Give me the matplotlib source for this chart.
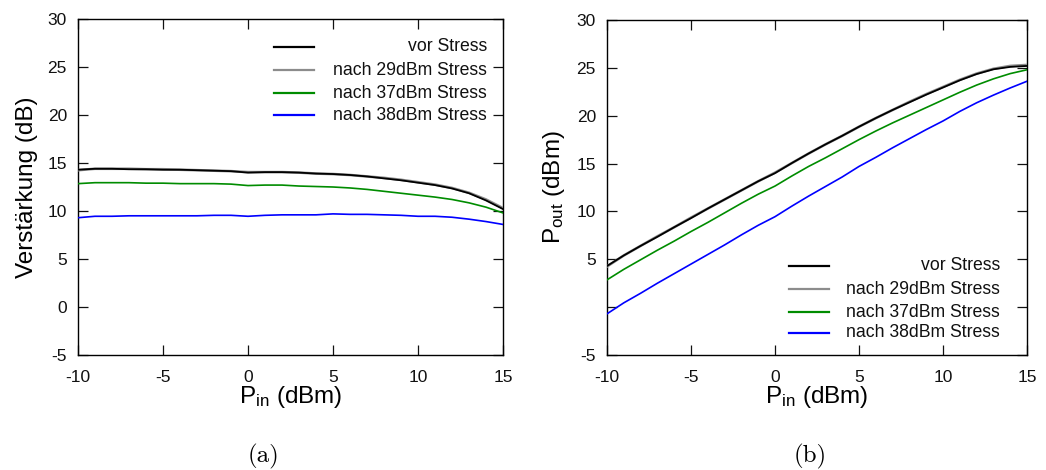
import matplotlib
matplotlib.use("Agg")
import matplotlib.pyplot as plt
from matplotlib.lines import Line2D

# ---------------------------------------------------------
# Data
# ---------------------------------------------------------
pin = [-10, -9, -8, -7, -6, -5, -4, -3, -2, -1, 0, 1, 2,
       3, 4, 5, 6, 7, 8, 9, 10, 11, 12, 13, 14, 15]

gain_vor = [14.3, 14.4, 14.4, 14.35, 14.35, 14.3, 14.3, 14.25, 14.2, 14.15, 14.0, 14.05, 14.05,
            14.0, 13.9, 13.85, 13.75, 13.6, 13.4, 13.2, 12.95, 12.7, 12.35, 11.85, 11.1, 10.2]
gain_29 = [14.25, 14.4, 14.4, 14.4, 14.35, 14.35, 14.3, 14.25, 14.2, 14.15, 14.05, 14.05, 14.05,
           14.0, 13.9, 13.85, 13.75, 13.6, 13.45, 13.25, 13.0, 12.75, 12.4, 11.9, 11.2, 10.3]
gain_37 = [12.85, 12.95, 12.95, 12.95, 12.9, 12.9, 12.85, 12.85, 12.85, 12.8, 12.65, 12.7, 12.7,
           12.6, 12.55, 12.5, 12.4, 12.25, 12.05, 11.85, 11.65, 11.45, 11.2, 10.85, 10.4, 9.8]
gain_38 = [9.3, 9.45, 9.45, 9.5, 9.5, 9.5, 9.5, 9.5, 9.55, 9.55, 9.45, 9.55, 9.6,
           9.6, 9.6, 9.7, 9.65, 9.65, 9.6, 9.55, 9.45, 9.45, 9.35, 9.15, 8.9, 8.6]

pout_vor = [4.3, 5.4, 6.4, 7.35, 8.35, 9.3, 10.3, 11.25, 12.2, 13.15, 14.0, 15.05, 16.05,
            17.0, 17.9, 18.85, 19.75, 20.6, 21.4, 22.2, 22.95, 23.7, 24.35, 24.85, 25.1, 25.2]
pout_29 = [4.25, 5.4, 6.4, 7.4, 8.35, 9.35, 10.3, 11.25, 12.2, 13.15, 14.05, 15.05, 16.05,
           17.0, 17.9, 18.85, 19.75, 20.6, 21.45, 22.25, 23.0, 23.75, 24.4, 24.9, 25.2, 25.3]
pout_37 = [2.85, 3.95, 4.95, 5.95, 6.9, 7.9, 8.85, 9.85, 10.85, 11.8, 12.65, 13.7, 14.7,
           15.6, 16.55, 17.5, 18.4, 19.25, 20.05, 20.85, 21.65, 22.45, 23.2, 23.85, 24.4, 24.8]
pout_38 = [-0.7, 0.45, 1.45, 2.5, 3.5, 4.5, 5.5, 6.5, 7.55, 8.55, 9.45, 10.55, 11.6,
           12.6, 13.6, 14.7, 15.65, 16.65, 17.6, 18.55, 19.45, 20.45, 21.35, 22.15, 22.9, 23.6]

labels = ["vor Stress", "nach 29dBm Stress", "nach 37dBm Stress", "nach 38dBm Stress"]
colors = ["#000000", "#8c8c8c", "#008c00", "#0000ff"]
widths = [1.3, 1.9, 1.2, 1.2]
zorders = [4, 3, 3, 3]

x_ticks = [-10, -5, 0, 5, 10, 15]
y_ticks = [-5, 0, 5, 10, 15, 20, 25, 30]
y_labels_b = ["-5", "", "5", "10", "15", "20", "25", "30"]

# ---------------------------------------------------------
# Style
# ---------------------------------------------------------
plt.rcParams["font.family"] = ["Liberation Sans", "DejaVu Sans"]
plt.rcParams["axes.unicode_minus"] = False
plt.rcParams["mathtext.fontset"] = "custom"
plt.rcParams["mathtext.rm"] = "Liberation Sans"
plt.rcParams["mathtext.default"] = "rm"

fig = plt.figure(figsize=(10.46, 4.70), dpi=100)
ax_a = fig.add_axes([78 / 1046, 115 / 470, 425 / 1046, 336 / 470])
ax_b = fig.add_axes([607 / 1046, 115 / 470, 420 / 1046, 335 / 470])


def style_axes(ax, ylabels):
    ax.set_xlim(-10, 15)
    ax.set_ylim(-5, 30)
    ax.set_xticks(x_ticks)
    ax.set_xticklabels([str(t) for t in x_ticks])
    ax.set_yticks(y_ticks)
    ax.set_yticklabels(ylabels)
    ax.tick_params(direction="in", length=7, width=0.9, top=True, right=True,
                   labelsize=12.5, colors="#111111")
    ax.tick_params(axis="x", pad=11)
    ax.tick_params(axis="y", pad=8)
    for s in ax.spines.values():
        s.set_linewidth(1.0)
    ax.set_xlabel(r"P$_{\mathrm{in}}$ (dBm)", fontsize=17.5, labelpad=-1)


def draw_legend(ax, x0, x1, xt, rows):
    for lab, col, yy in zip(labels, colors, rows):
        ax.add_line(Line2D([x0, x1], [yy, yy], transform=ax.transAxes,
                           color=col, lw=1.6))
        ax.text(xt, yy, lab, transform=ax.transAxes, ha="right", va="center",
                fontsize=12.7, color="#111111")


# (a) gain
for ys, col, lw, z in zip([gain_vor, gain_29, gain_37, gain_38], colors, widths, zorders):
    ax_a.plot(pin, ys, color=col, lw=lw, zorder=z)
style_axes(ax_a, [str(t) for t in y_ticks])
ax_a.set_ylabel("Verstärkung (dB)", fontsize=17.5, labelpad=7)
draw_legend(ax_a, 0.461, 0.555, 0.962, [0.917, 0.848, 0.779, 0.714])

# (b) output power
for ys, col, lw, z in zip([pout_vor, pout_29, pout_37, pout_38], colors, widths, zorders):
    ax_b.plot(pin, ys, color=col, lw=lw, zorder=z)
style_axes(ax_b, y_labels_b)
ax_b.set_ylabel(r"P$_{\mathrm{out}}$ (dBm)", fontsize=17.5, labelpad=7)
draw_legend(ax_b, 0.433, 0.529, 0.936, [0.266, 0.197, 0.127, 0.066])

# captions
fig.text(263 / 1046, 1 - 456 / 470, "(a)", family="cmr10", fontsize=18,
         ha="center", va="center")
fig.text(810 / 1046, 1 - 456 / 470, "(b)", family="cmr10", fontsize=18,
         ha="center", va="center")

fig.savefig("out.png", dpi=100)
